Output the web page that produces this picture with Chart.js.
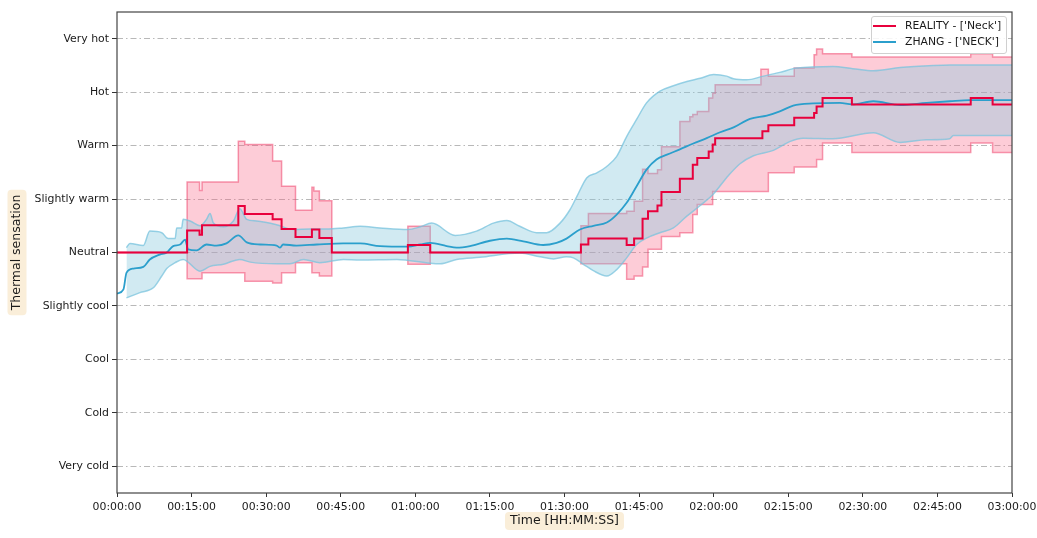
<!DOCTYPE html>
<html>
<head>
<meta charset="utf-8">
<script src="https://cdn.jsdelivr.net/npm/chart.js@4.4.0/dist/chart.umd.min.js"></script>
<style>
  body { margin: 0; background: #fff; }
  #wrap { position: relative; width: 1037px; height: 538px; }
  #legendBox { position: absolute; left: 871px; top: 16px; width: 134px; height: 36px;
    border: 1px solid #d0d0d0; border-radius: 3px; background: rgba(255,255,255,0.85);
    font-family: 'DejaVu Sans'; font-size: 10.8px; color: #1a1a1a; }
  .item { position: absolute; left: 0; height: 14px; line-height: 14px; white-space: nowrap; }
  .swatch { position: absolute; left: 1px; top: 6px; width: 23px; height: 2px; }
  .label { position: absolute; left: 33px; top: 0; }
</style>
</head>
<body>
<div id="wrap">
  <canvas id="myChart" width="1037" height="538"></canvas>
  <div id="legendBox"></div>
</div>
<script>
// y categories, -4 .. 4
const sensationLabels = ['Very cold', 'Cold', 'Cool', 'Slightly cool', 'Neutral',
                         'Slightly warm', 'Warm', 'Hot', 'Very hot'];
const timeTickLabels = ['00:00:00', '00:15:00', '00:30:00', '00:45:00', '01:00:00', '01:15:00', '01:30:00',
                        '01:45:00', '02:00:00', '02:15:00', '02:30:00', '02:45:00', '03:00:00'];

// times in minutes
const realityTime = [0, 14.1, 16.6, 17.1, 24.4, 25.7, 31.3, 33.1, 35.9, 39.2, 40.7, 43.2, 58.5, 63.0, 93.3,
  94.8, 102.5, 104.0, 105.7, 106.8, 108.7, 109.5, 113.2, 115.8, 116.7, 119.0, 119.8, 120.3, 129.8, 131.0,
  136.2, 140.2, 140.7, 141.9, 147.8, 171.7, 176.1, 180];
const realityValue = [0, 0.41, 0.33, 0.51, 0.87, 0.72, 0.62, 0.44, 0.29, 0.43, 0.27, 0, 0.14, 0, 0.15,
  0.26, 0.14, 0.26, 0.63, 0.77, 0.88, 1.13, 1.38, 1.64, 1.77, 1.89, 2.02, 2.14, 2.27, 2.38,
  2.52, 2.61, 2.73, 2.89, 2.77, 2.89, 2.77, 2.77];

const realityBandTime = [0, 14.1, 16.6, 17.1, 24.4, 25.7, 31.3, 33.1, 35.9, 39.2, 39.6, 40.7, 43.2, 58.5, 63.0,
  93.3, 94.8, 102.5, 104.0, 105.7, 106.8, 108.7, 109.5, 113.2, 115.2, 115.8, 116.7, 119.0, 119.8, 120.3,
  129.5, 131.0, 136.2, 140.2, 140.7, 141.9, 147.8, 171.7, 176.1, 180];
const realityUpper = [0, 1.32, 1.16, 1.32, 2.08, 2.02, 1.71, 1.24, 0.79, 1.22, 1.15, 0.97, 0, 0.49, 0,
  0.50, 0.73, 0.77, 0.96, 1.56, 1.48, 1.55, 1.98, 2.45, 2.54, 2.58, 2.64, 2.89, 2.98, 3.14,
  3.43, 3.30, 3.45, 3.70, 3.81, 3.72, 3.66, 3.72, 3.66, 3.66];
const realityLower = [0, -0.49, -0.49, -0.38, -0.38, -0.54, -0.57, -0.38, -0.19, -0.38, -0.38, -0.44, 0, -0.22, 0,
  -0.21, -0.21, -0.50, -0.44, -0.27, 0.06, 0.06, 0.30, 0.37, 0.37, 0.71, 0.90, 0.90, 1.14, 1.14,
  1.14, 1.49, 1.60, 1.60, 1.74, 2.05, 1.87, 2.05, 1.87, 1.87];

const zhangTime = [0, 1.3, 1.9, 3.3, 5.3, 6.6, 8.6, 10.0, 11.3, 12.7, 13.7, 14.3, 16.0, 18.0, 20.0, 22.0,
  24.4, 26.1, 28.8, 32.1, 32.8, 33.4, 36.1, 40.2, 45.5, 48.9, 52.9, 58.5, 61.0, 63.0, 66.3, 68.3, 71.0,
  75.0, 78.4, 81.7, 85.7, 88.4, 90.4, 93.1, 95.8, 98.5, 100.5, 102.5, 104.5, 106.5, 108.5, 110.6, 113.2,
  115.9, 118.6, 121.3, 124.0, 127.3, 130.7, 133.3, 136.0, 140.0, 145.4, 147.8, 152.1, 157.5, 162.8,
  167.5, 171.6, 180];
const zhangValue = [-0.77, -0.69, -0.38, -0.30, -0.27, -0.13, -0.04, 0.0, 0.12, 0.15, 0.24, 0.06, 0.04, 0.15,
  0.13, 0.17, 0.32, 0.19, 0.15, 0.13, 0.09, 0.15, 0.13, 0.15, 0.17, 0.17, 0.12, 0.11, 0.15, 0.18, 0.12,
  0.09, 0.12, 0.22, 0.26, 0.21, 0.14, 0.18, 0.26, 0.43, 0.50, 0.56, 0.71, 0.93, 1.24, 1.55, 1.74, 1.83,
  1.93, 2.04, 2.14, 2.25, 2.34, 2.50, 2.56, 2.64, 2.75, 2.79, 2.80, 2.77, 2.83, 2.76, 2.80, 2.83, 2.85, 2.85];

const zhangUpperTime = [1.9, 2.6, 5.3, 6.6, 9.0, 10.3, 11.7, 12.0, 13.0, 13.3, 14.7, 16.7, 18.0, 18.7, 19.4,
  21.4, 23.4, 24.7, 26.1, 28.1, 32.1, 35.5, 38.8, 42.2, 45.5, 48.9, 52.9, 58.5, 61.0, 63.3, 68.0, 72.3,
  75.7, 78.4, 81.0, 84.4, 86.4, 89.1, 91.1, 92.5, 94.5, 96.5, 98.5, 100.5, 102.5, 104.5, 106.5, 109.2,
  111.9, 114.6, 117.3, 120.0, 122.6, 124.0, 126.6, 130.0, 133.3, 136.7, 144.0, 148.0, 152.1, 157.5,
  164.2, 167.5, 180];
const zhangUpper = [0.09, 0.17, 0.13, 0.40, 0.37, 0.26, 0.26, 0.46, 0.46, 0.62, 0.59, 0.50, 0.62, 0.73, 0.55,
  0.48, 0.59, 0.82, 0.62, 0.59, 0.52, 0.43, 0.44, 0.44, 0.46, 0.49, 0.46, 0.43, 0.48, 0.55, 0.32, 0.40,
  0.55, 0.60, 0.49, 0.37, 0.37, 0.55, 0.80, 1.05, 1.40, 1.49, 1.61, 1.80, 2.17, 2.49, 2.80, 3.02,
  3.12, 3.20, 3.26, 3.33, 3.30, 3.25, 3.23, 3.30, 3.37, 3.45, 3.48, 3.44, 3.40, 3.46,
  3.50, 3.51, 3.51];

const zhangLowerTime = [1.9, 4.6, 7.3, 9.0, 10.0, 11.7, 13.3, 16.7, 18.7, 21.4, 24.7, 26.8, 32.1, 34.8, 37.5,
  40.8, 45.5, 48.9, 56.3, 63.0, 65.0, 68.3, 73.0, 81.0, 85.1, 87.8, 90.4, 91.8, 93.8, 95.8, 98.5, 100.5,
  102.5, 104.5, 106.5, 109.2, 111.9, 114.6, 117.3, 120.0, 122.6, 125.3, 128.0, 132.0, 135.4, 138.0,
  144.0, 152.1, 157.5, 162.8, 167.5, 168.2, 180];
const zhangLower = [-0.85, -0.75, -0.66, -0.44, -0.30, -0.19, -0.13, -0.35, -0.26, -0.22, -0.13, -0.18, -0.21,
  -0.21, -0.13, -0.19, -0.13, -0.14, -0.13, -0.20, -0.21, -0.13, -0.09, -0.01, -0.08, -0.12, -0.08, -0.10,
  -0.22, -0.34, -0.44, -0.32, -0.10, 0.15, 0.27, 0.37, 0.46, 0.68, 0.88, 1.10, 1.40, 1.66, 1.81, 1.91,
  2.08, 2.14, 2.13, 2.24, 2.06, 2.11, 2.13, 2.19, 2.19];

const realityColor = '#e8003c';
const realityFill = 'rgba(250, 95, 130, 0.32)';
const realityEdge = 'rgba(238, 70, 110, 0.55)';
const zhangColor = '#2b9fcc';
const zhangFill = 'rgba(135, 200, 222, 0.38)';
const zhangEdge = 'rgba(120, 195, 222, 0.75)';

const toPoints = (xs, ys) => xs.map((x, i) => ({ x: x, y: ys[i] }));
const toMinutes = s => { const p = s.split(':').map(Number); return p[0] * 60 + p[1] + p[2] / 60; };

// legend (html, sits inside the plot like the original)
const legendItems = [
  { text: "REALITY - ['Neck']", color: realityColor },
  { text: "ZHANG - ['NECK']", color: zhangColor }
];
const legendBox = document.getElementById('legendBox');
legendItems.forEach((item, i) => {
  const row = document.createElement('div');
  row.className = 'item';
  row.style.top = (1.7 + i * 16.6) + 'px';
  const sw = document.createElement('span');
  sw.className = 'swatch';
  sw.style.background = item.color;
  const lb = document.createElement('span');
  lb.className = 'label';
  lb.textContent = item.text;
  row.appendChild(sw);
  row.appendChild(lb);
  legendBox.appendChild(row);
});

function roundBox(c, x, y, w, h, r) {
  c.beginPath();
  c.moveTo(x + r, y);
  c.lineTo(x + w - r, y);
  c.quadraticCurveTo(x + w, y, x + w, y + r);
  c.lineTo(x + w, y + h - r);
  c.quadraticCurveTo(x + w, y + h, x + w - r, y + h);
  c.lineTo(x + r, y + h);
  c.quadraticCurveTo(x, y + h, x, y + h - r);
  c.lineTo(x, y + r);
  c.quadraticCurveTo(x, y, x + r, y);
  c.closePath();
  c.fill();
}

// beige boxes behind axis titles
const titleBoxes = {
  id: 'titleBoxes',
  beforeDraw(chart) {
    const c = chart.ctx;
    c.save();
    c.font = '12.5px "DejaVu Sans"';
    c.fillStyle = 'rgba(245, 222, 179, 0.5)';
    const xs = chart.scales.x;
    const wx = c.measureText(xs.options.title.text).width + 10;
    const cy = xs.bottom - 17;
    roundBox(c, (xs.left + xs.right) / 2 - wx / 2, cy - 9, wx, 18, 4);
    const ys = chart.scales.y;
    const wy = c.measureText(ys.options.title.text).width + 10;
    const cx = ys.left + 17;
    roundBox(c, cx - 9.5, (ys.top + ys.bottom) / 2 - wy / 2, 19, wy, 4);
    c.restore();
  }
};

// frame round the plot
const frame = {
  id: 'frame',
  afterDraw(chart) {
    const a = chart.chartArea;
    const c = chart.ctx;
    c.save();
    c.strokeStyle = '#444';
    c.lineWidth = 1.2;
    c.strokeRect(a.left, a.top, a.right - a.left, a.bottom - a.top);
    c.restore();
  }
};

Chart.defaults.font.family = 'DejaVu Sans';
Chart.defaults.color = '#1a1a1a';

const ctx = document.getElementById('myChart').getContext('2d');
new Chart(ctx, {
  type: 'line',
  data: {
    datasets: [
      { label: 'zhang upper', data: toPoints(zhangUpperTime, zhangUpper), fill: '+1',
        backgroundColor: zhangFill, borderColor: zhangEdge, borderWidth: 1.5,
        cubicInterpolationMode: 'monotone', order: 3 },
      { label: 'zhang lower', data: toPoints(zhangLowerTime, zhangLower), fill: false,
        borderColor: zhangEdge, borderWidth: 1.5, cubicInterpolationMode: 'monotone', order: 3 },
      { label: 'reality upper', data: toPoints(realityBandTime, realityUpper), fill: '+1', stepped: true,
        backgroundColor: realityFill, borderColor: realityEdge, borderWidth: 1.5, order: 4 },
      { label: 'reality lower', data: toPoints(realityBandTime, realityLower), fill: false, stepped: true,
        borderColor: realityEdge, borderWidth: 1.5, order: 4 },
      { label: "ZHANG - ['NECK']", data: toPoints(zhangTime, zhangValue), fill: false,
        borderColor: zhangColor, borderWidth: 1.8, cubicInterpolationMode: 'monotone', order: 2 },
      { label: "REALITY - ['Neck']", data: toPoints(realityTime, realityValue), fill: false, stepped: true,
        borderColor: realityColor, borderWidth: 2, order: 1 }
    ]
  },
  options: {
    responsive: false,
    animation: false,
    layout: { padding: { top: 12, right: 25, left: 0, bottom: 0 } },
    elements: { point: { radius: 0 } },
    plugins: { legend: { display: false }, tooltip: { enabled: false } },
    scales: {
      x: {
        type: 'linear', min: 0, max: 180,
        afterBuildTicks: axis => { axis.ticks = timeTickLabels.map(t => ({ value: toMinutes(t) })); },
        afterFit: axis => { axis.height = 45; axis.paddingLeft = 0; axis.paddingRight = 0; },
        ticks: { callback: (v, i) => timeTickLabels[i], font: { size: 10.9 }, padding: 4,
                 maxRotation: 0, autoSkip: false },
        grid: { drawOnChartArea: false, tickLength: 4, tickColor: '#333' },
        border: { display: false },
        title: { display: true, text: 'Time [HH:MM:SS]', font: { size: 12.5 },
                 padding: { top: 0, bottom: 9.5 } }
      },
      y: {
        type: 'linear', min: -4.5, max: 4.5,
        afterBuildTicks: axis => { axis.ticks = sensationLabels.map((_, i) => ({ value: i - 4 })); },
        afterFit: axis => { axis.width = 117; },
        ticks: { callback: v => sensationLabels[v + 4], font: { size: 10.9 }, padding: 3 },
        grid: { color: '#b8b8b8', lineWidth: 1, tickLength: 5, tickColor: '#333' },
        border: { display: false, dash: [6, 3, 1.5, 3] },
        title: { display: true, text: 'Thermal sensation', font: { size: 12.5 },
                 padding: { top: 9.5, bottom: 0 } }
      }
    }
  },
  plugins: [titleBoxes, frame]
});
</script>
</body>
</html>
